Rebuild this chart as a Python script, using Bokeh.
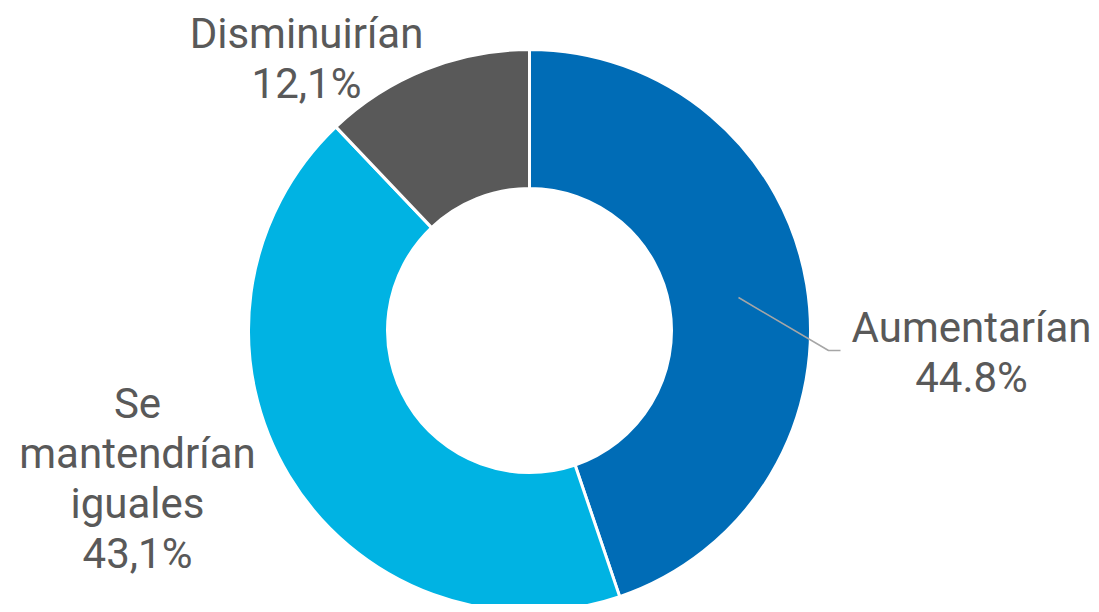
import numpy as np
from bokeh.plotting import figure
from bokeh.models import Range1d
from bokeh.core.properties import value
from bokeh.embed import file_html
from bokeh.resources import INLINE

categories = ["Aumentarían", "Se mantendrían iguales", "Disminuirían"]
shares = [44.8, 43.1, 12.1]
label_lines = [["Aumentarían", "44.8%"],
               ["Se", "mantendrían", "iguales", "43,1%"],
               ["Disminuirían", "12,1%"]]
colors = ["#006CB6", "#00B3E3", "#595959"]

W, H = 1091, 604
p = figure(width=W, height=H, output_backend="svg", toolbar_location=None,
           x_range=Range1d(0, W), y_range=Range1d(0, H), min_border=0)
p.axis.visible = False
p.grid.visible = False
p.outline_line_color = None
p.background_fill_color = "white"

cx, cy = 529, 274
r_out, r_in = 281, 142
vals = np.array(shares)
frac = vals / vals.sum()
cum = np.concatenate([[0], np.cumsum(frac)])
start = np.pi / 2 - cum[:-1] * 2 * np.pi
end = np.pi / 2 - cum[1:] * 2 * np.pi

p.annular_wedge(x=cx, y=cy, inner_radius=r_in, outer_radius=r_out,
                start_angle=list(start), end_angle=list(end), direction="clock",
                fill_color=colors, line_color="white", line_width=3)

# leader line for Aumentarían
p.line(x=[738, 828, 840], y=[307, 254, 254], line_color="#A6A6A6", line_width=1.5)

text_color = "#595959"
font = value("Roboto")
fs = "42px"
anchors = [(971, 277), (137, 201), (306, 571)]
lh = 50
for lines, (ax, ay) in zip(label_lines, anchors):
    ys = [ay - i * lh for i in range(len(lines))]
    p.text(x=[ax] * len(lines), y=ys, text=lines, text_align="center",
           text_baseline="middle", text_color=text_color, text_font=font,
           text_font_size=fs)

open("out.html", "w").write(file_html(p, INLINE))
